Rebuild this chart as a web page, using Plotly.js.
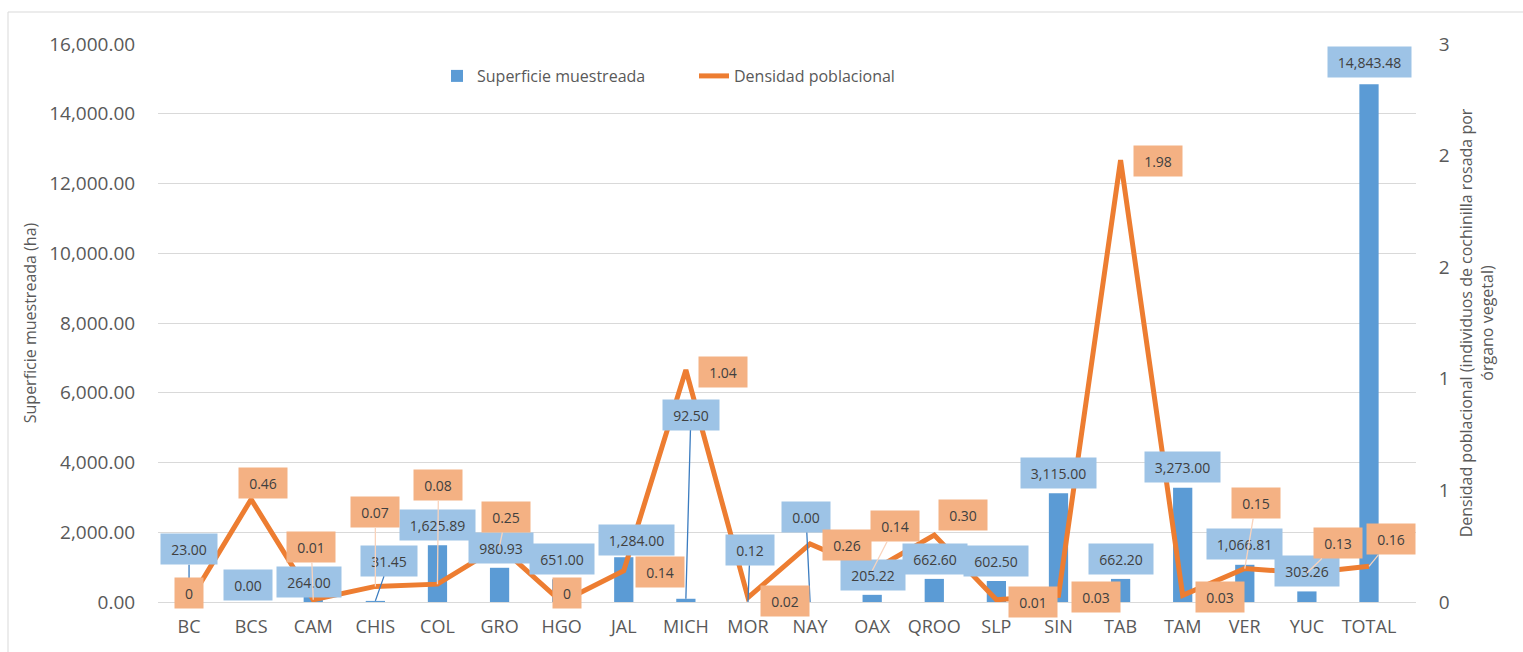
<!DOCTYPE html>
<html>
<head>
<meta charset="utf-8">
<script src="https://cdn.plot.ly/plotly-3.0.1.min.js"></script>
<style>html,body{margin:0;padding:0;background:#fff;}#chart{width:1523px;height:652px;}</style>
</head>
<body>
<div id="chart"></div>
<script>
// ---- data ----
var categories = ["BC","BCS","CAM","CHIS","COL","GRO","HGO","JAL","MICH","MOR","NAY","OAX","QROO","SLP","SIN","TAB","TAM","VER","YUC","TOTAL"];
var superficie = [23.00, 0.00, 264.00, 31.45, 1625.89, 980.93, 651.00, 1284.00, 92.50, 0.12, 0.00, 205.22, 662.60, 602.50, 3115.00, 662.20, 3273.00, 1066.81, 303.26, 14843.48];
var densidad = [0, 0.46, 0.01, 0.07, 0.08, 0.25, 0, 0.14, 1.04, 0.02, 0.26, 0.14, 0.30, 0.01, 0.03, 1.98, 0.03, 0.15, 0.13, 0.16];
var rightTickValues = [0, 0.5, 1, 1.5, 2, 2.5];
var rightTickLabels = ["0", "1", "1", "2", "2", "3"];

// ---- label placement (pixel offsets, style only) ----
var barLabelOffsets = [[0,-52],[-3,-17],[-4,-11],[14,-40],[0,-20],[1,-20],[0,-20],[13,-17],[5,-184],[2,-52],[-4,-85],[1,-20],[1,-20],[0,-20],[0,-20],[0,-20],[0,-21],[0,-21],[0,-20],[0,-22]];
var barLeader = [1,0,0,1,0,0,0,0,1,1,1,0,0,0,0,0,0,0,0,0];
var denLabelOffsets = [[0,-9],[12,-16],[-2,-53],[0,-74],[1,-99],[6,-29],[5,-9],[36,1],[37,2],[37,3],[37,1],[23,-45],[29,-20],[37,2],[38,2],[37,1],[37,2],[11,-66],[31,-30],[22,-27]];
var denLeader = [0,0,1,1,1,1,0,0,0,0,0,1,0,0,0,0,0,1,1,1];

var FONT = '"Open Sans", "DejaVu Sans", sans-serif';
var LABEL_SIZE = 14;
var canvas = document.createElement('canvas');
var ctx = canvas.getContext('2d');
ctx.font = LABEL_SIZE + 'px "Open Sans"';
function tw(s){ return ctx.measureText(s).width; }

function fmtBar(v){ return v.toLocaleString('en-US',{minimumFractionDigits:2, maximumFractionDigits:2}); }
function fmtDen(v){ return v === 0 ? "0" : v.toFixed(2); }

var annotations = [];
for (var i = 0; i < categories.length; i++) {
  var t1 = fmtBar(superficie[i]);
  annotations.push({
    x: categories[i], y: superficie[i], xref: 'x', yref: 'y',
    text: t1, showarrow: true, arrowhead: 0, arrowwidth: 1.3, standoff: 0,
    arrowcolor: barLeader[i] ? '#3B7CC0' : 'rgba(0,0,0,0)',
    ax: barLabelOffsets[i][0], ay: barLabelOffsets[i][1],
    bgcolor: '#9DC3E6', width: Math.round(tw(t1) + 18), height: 28,
    font: {family: FONT, size: LABEL_SIZE, color: '#404040'}
  });
}
for (var j = 0; j < categories.length; j++) {
  var t2 = fmtDen(densidad[j]);
  annotations.push({
    x: categories[j], y: densidad[j], xref: 'x', yref: 'y2',
    text: t2, showarrow: true, arrowhead: 0, arrowwidth: 1.3, standoff: 0,
    arrowcolor: denLeader[j] ? '#F9D3BC' : 'rgba(0,0,0,0)',
    ax: denLabelOffsets[j][0], ay: denLabelOffsets[j][1],
    bgcolor: '#F4B183', width: Math.round(tw(t2) + 18), height: 28,
    font: {family: FONT, size: LABEL_SIZE, color: '#404040'}
  });
}

var traces = [
  {
    type: 'bar', name: 'Superficie muestreada', x: categories, y: superficie,
    marker: {color: '#5B9BD5'}, yaxis: 'y', hoverinfo: 'x+y'
  },
  {
    type: 'scatter', mode: 'lines', name: 'Densidad poblacional', x: categories, y: densidad,
    line: {color: '#ED7D31', width: 5}, yaxis: 'y2', hoverinfo: 'x+y'
  }
];

var L = 158, R = 107, T = 44, B = 50;
var W = 1523, H = 652;
var pw = W - L - R, ph = H - T - B;
function px2x(p){ return (p - L) / pw; }
function py2y(p){ return (H - B - p) / ph; }

var layout = {
  width: W, height: H,
  margin: {l: L, r: R, t: T, b: B, pad: 0},
  paper_bgcolor: '#ffffff', plot_bgcolor: '#ffffff',
  font: {family: FONT, color: '#595959', size: 18},
  bargap: 0.69,
  showlegend: true,
  legend: {
    orientation: 'h', x: px2x(437), xanchor: 'left', y: py2y(59), yanchor: 'top',
    font: {family: FONT, size: 16, color: '#595959'}, bgcolor: 'rgba(0,0,0,0)',
    entrywidth: 212, traceorder: 'normal'
  },
  xaxis: {
    type: 'category', showgrid: false, zeroline: false,
    showline: true, linecolor: '#D9D9D9', linewidth: 1,
    ticks: 'outside', ticklen: 8, tickcolor: 'rgba(0,0,0,0)',
    tickfont: {family: FONT, size: 18, color: '#595959'}
  },
  yaxis: {
    range: [0, 16000], dtick: 2000, tickformat: ',.2f',
    showgrid: true, gridcolor: '#D9D9D9', gridwidth: 1, zeroline: false,
    ticks: 'outside', ticklen: 18, tickcolor: 'rgba(0,0,0,0)',
    tickfont: {family: FONT, size: 19, color: '#595959'},
    title: {text: 'Superficie muestreada (ha)', font: {family: FONT, size: 16, color: '#595959'}, standoff: 8}
  },
  yaxis2: {
    overlaying: 'y', side: 'right', range: [0, 2.5],
    tickmode: 'array', tickvals: rightTickValues, ticktext: rightTickLabels,
    showgrid: false, zeroline: false,
    ticks: 'outside', ticklen: 18, tickcolor: 'rgba(0,0,0,0)',
    tickfont: {family: FONT, size: 19, color: '#595959'},
    title: {text: 'Densidad poblacional (individuos de cochinilla rosada por<br>órgano vegetal)', font: {family: FONT, size: 16, color: '#595959'}, standoff: 12}
  },
  annotations: annotations,
  shapes: [
    {type: 'rect', xref: 'paper', yref: 'paper', x0: px2x(8), x1: px2x(1540), y0: py2y(670), y1: py2y(12),
     line: {color: '#D9D9D9', width: 1}, fillcolor: 'rgba(0,0,0,0)', layer: 'below'}
  ]
};

Plotly.newPlot('chart', traces, layout, {displayModeBar: false, staticPlot: true});
</script>
</body>
</html>
